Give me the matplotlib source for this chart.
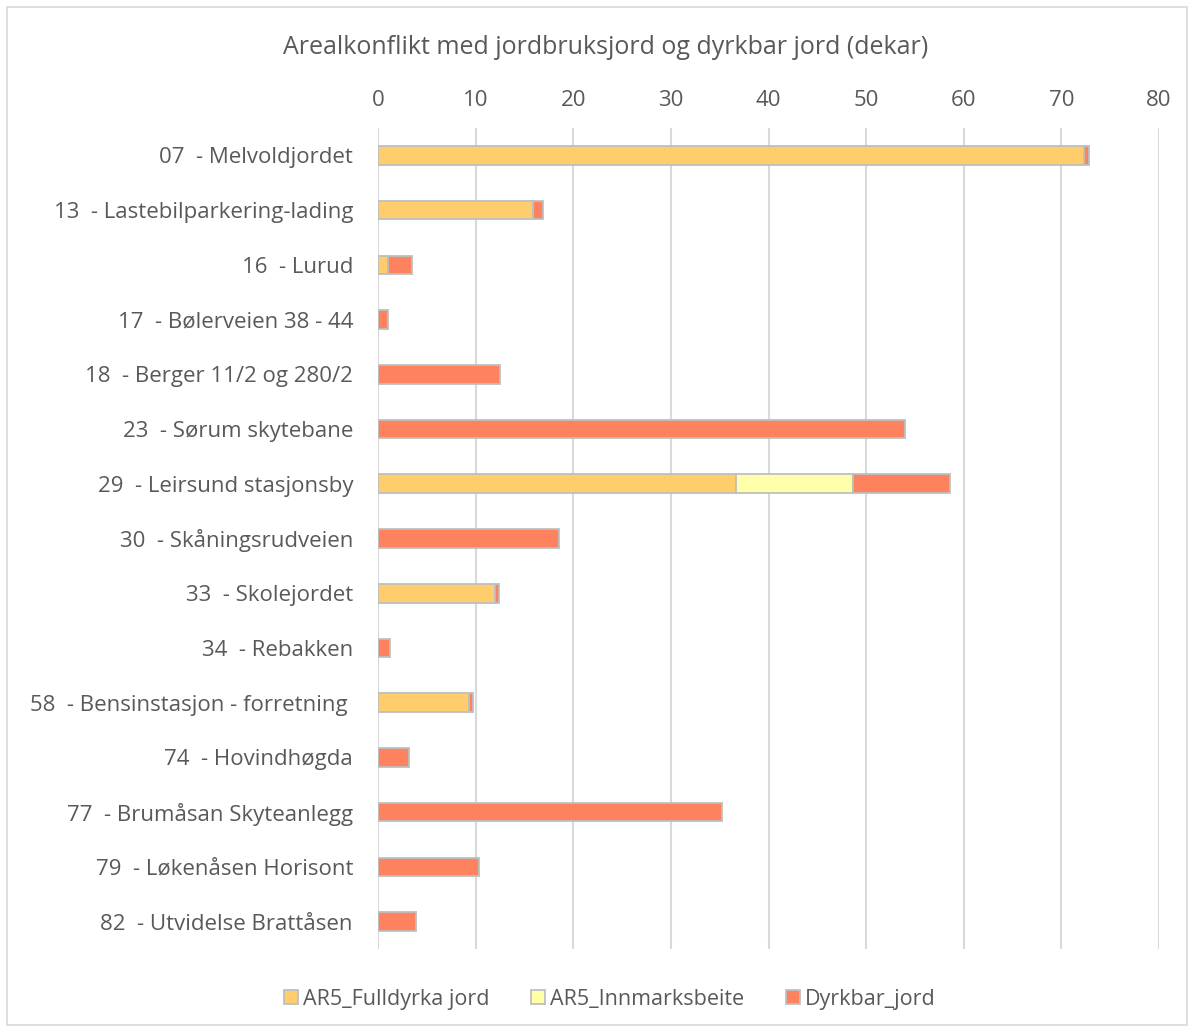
import numpy as np
import matplotlib.pyplot as plt
from matplotlib.patches import Rectangle

plt.rcParams['font.family'] = ['Open Sans', 'DejaVu Sans']

omraader = [
    "07  - Melvoldjordet",
    "13  - Lastebilparkering-lading",
    "16  - Lurud",
    "17  - Bølerveien 38 - 44",
    "18  - Berger 11/2 og 280/2",
    "23  - Sørum skytebane",
    "29  - Leirsund stasjonsby",
    "30  - Skåningsrudveien",
    "33  - Skolejordet",
    "34  - Rebakken",
    "58  - Bensinstasjon - forretning ",
    "74  - Hovindhøgda",
    "77  - Brumåsan Skyteanlegg",
    "79  - Løkenåsen Horisont",
    "82  - Utvidelse Brattåsen",
]
fulldyrka = [72.3, 15.9, 1.0, 0, 0, 0, 36.7, 0, 12.0, 0, 9.3, 0, 0, 0, 0]
innmark = [0, 0, 0, 0, 0, 0, 12.0, 0, 0, 0, 0, 0, 0, 0, 0]
dyrkbar = [0.5, 1.0, 2.5, 1.0, 12.5, 54.0, 9.9, 18.5, 0.4, 1.2, 0.4, 3.2, 35.2, 10.3, 3.9]

serier = ["AR5_Fulldyrka jord", "AR5_Innmarksbeite", "Dyrkbar_jord"]
farger = ["#FFCD6B", "#FFFFAA", "#FF825F"]
tekst = "#595959"

fig = plt.figure(figsize=(11.94, 10.32), dpi=100)
ax = fig.add_axes([378 / 1194, 1 - 949 / 1032, (1159 - 378) / 1194, (949 - 128) / 1032])

y = np.arange(len(omraader))
f = np.array(fulldyrka)
i = np.array(innmark)
d = np.array(dyrkbar)
kw = dict(height=0.34, edgecolor="#BFBFBF", linewidth=1.3, zorder=3)
ax.barh(y, f, color=farger[0], label=serier[0], **kw)
ax.barh(y, i, left=f, color=farger[1], label=serier[1], **kw)
ax.barh(y, d, left=f + i, color=farger[2], label=serier[2], **kw)

ax.set_xlim(0, 80)
ax.set_ylim(len(omraader) - 0.5, -0.5)
ax.set_xticks(range(0, 81, 10))
ax.xaxis.tick_top()
ax.set_yticks(y)
ax.set_yticklabels(omraader)
ax.tick_params(axis="both", length=0, labelsize=16, colors=tekst)
ax.tick_params(axis="y", pad=18)
ax.tick_params(axis="x", pad=12)
ax.grid(axis="x", color="#D9D9D9", linewidth=1.5, zorder=0)
for s in ax.spines.values():
    s.set_visible(False)

fig.text(606 / 1194, 1 - 48 / 1032, "Arealkonflikt med jordbruksjord og dyrkbar jord (dekar)",
         ha="center", va="center", fontsize=18, color=tekst)

handles = [Rectangle((0, 0), 1, 1, facecolor=c, edgecolor="#BFBFBF", linewidth=1.3) for c in farger]
fig.legend(handles, serier, loc="center", bbox_to_anchor=(610 / 1194, 1 - 999 / 1032), ncol=3,
           frameon=False, fontsize=15.5, labelcolor=tekst, handlelength=0.62, handleheight=0.62,
           handletextpad=0.25, columnspacing=1.95)

fig.add_artist(Rectangle((7 / 1194, 7 / 1032), 1180 / 1194, 1018 / 1032, transform=fig.transFigure,
                         fill=False, edgecolor="#D9D9D9", linewidth=1.2))

fig.savefig("out.png", dpi=100)
